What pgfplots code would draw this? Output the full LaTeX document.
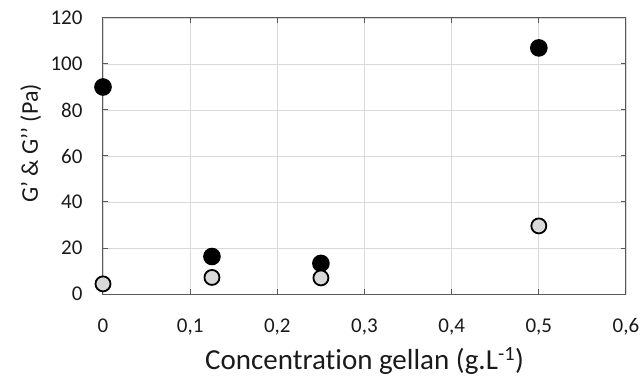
\documentclass[border=0pt]{standalone}
\usepackage{fontspec}
\setmainfont{Carlito}[Ligatures=NoCommon]
\usepackage{pgfplots}
\pgfplotsset{compat=1.18}
\definecolor{txt}{HTML}{1A1A1A}
\definecolor{axl}{HTML}{595959}
\definecolor{grd}{HTML}{D9D9D9}
\definecolor{lgray}{HTML}{D9D9D9}
\newcommand{\tf}{\fontsize{21bp}{24bp}\selectfont}
\begin{document}
\begin{tikzpicture}
\begin{axis}[
  scale only axis,
  width=523bp, height=276bp,
  xmin=0, xmax=0.6, ymin=0, ymax=120,
  xtick={0,0.1,0.2,0.3,0.4,0.5,0.6},
  ytick={0,20,40,60,80,100,120},
  xticklabels={{\tf 0},{\tf 0,1},{\tf 0,2},{\tf 0,3},{\tf 0,4},{\tf 0,5},{\tf 0,6}},
  yticklabels={{\tf 0},{\tf 20},{\tf 40},{\tf 60},{\tf 80},{\tf 100},{\tf 120}},
  grid=major,
  major grid style={grd, line width=0.9bp},
  axis line style={axl, line width=1bp},
  tick style={axl, line width=1bp},
  tick align=inside,
  major tick length=5bp,
  tick label style={text=txt},
  xticklabel style={anchor=base, yshift=-38bp},
  yticklabel style={anchor=east, xshift=-17bp},
  xlabel={Concentration gellan (g.L\textsuperscript{-1})},
  ylabel={G’ \& G’’ (Pa)},
  xlabel style={font=\fontsize{29bp}{33bp}\selectfont, text=txt, at={([yshift=-75bp]axis description cs:0.5,0)}, anchor=base},
  ylabel style={font=\fontsize{24bp}{28bp}\selectfont, text=txt, at={([xshift=-65bp]axis description cs:0,0.545)}, anchor=base},
  clip=false,
]
\addplot[only marks, mark=*, mark size=8.2bp, mark options={fill=black, draw=black, line width=1.2bp}]
  coordinates {(0,90) (0.125,16.3) (0.25,13.3) (0.5,107)};
\addplot[only marks, mark=*, mark size=7.5bp, mark options={fill=lgray, draw=black, line width=1.8bp}]
  coordinates {(0,4.4) (0.125,7.2) (0.25,7) (0.5,29.6)};
\end{axis}
\pgfresetboundingbox
\path (-103bp,-89bp) rectangle (539bp,294bp);
\end{tikzpicture}
\end{document}
